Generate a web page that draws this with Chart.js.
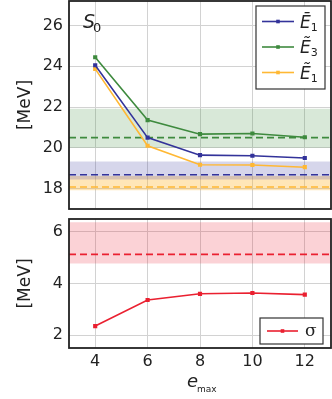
<!DOCTYPE html>
<html>
<head>
<meta charset="utf-8">
<script src="https://cdn.jsdelivr.net/npm/chart.js@4"></script>
<style>
  html, body { margin: 0; padding: 0; background: #fff; }
  #wrap { position: relative; width: 332px; height: 399px; }
  .pane { position: absolute; left: 0; width: 332px; }
  #topPane { top: 0; height: 212px; }
  #botPane { top: 212px; height: 187px; }
</style>
</head>
<body>
<div id="wrap">
  <div class="pane" id="topPane"><canvas id="topChart"></canvas></div>
  <div class="pane" id="botPane"><canvas id="botChart"></canvas></div>
</div>
<script>
// x values (e_max)
const emax = [4, 6, 8, 10, 12];
const xRange = [3, 13];
const xTicks = [4, 6, 8, 10, 12];

// top panel, S0 energies in MeV
const eBar1 = [24.05, 20.5, 19.64, 19.61, 19.5];
const eTilde3 = [24.44, 21.36, 20.67, 20.7, 20.52];
const eTilde1 = [23.87, 20.1, 19.17, 19.16, 19.05];
const topTicks = [18, 20, 22, 24, 26];

// reference values with their bands (low, high)
const greenRef = 20.5,  greenBand = [20.0, 21.92];
const blueRef = 18.68,  blueBand = [18.45, 19.33];
const orangeRef = 18.08, orangeBand = [17.92, 18.62];

// bottom panel, sigma
const sigma = [2.35, 3.36, 3.6, 3.63, 3.57];
const sigmaRef = 5.13, sigmaBand = [4.78, 6.37];
const botTicks = [2, 4, 6];

const FONT = '"DejaVu Sans", sans-serif';
const BLUE = '#33339a', GREEN = '#3e8a3e', ORANGE = '#ffb834', RED = '#ea2030';

function pts(ys) { return emax.map((x, i) => ({x: x, y: ys[i]})); }
function flat(y) { return xRange.map(x => ({x: x, y: y})); }

function seriesSet(label, ys, color) {
  return {
    label: label, data: pts(ys), borderColor: color, backgroundColor: color,
    borderWidth: 1.6, pointStyle: 'rect', pointRadius: 1.8, pointHoverRadius: 1.8,
    tension: 0, order: 1, legend: true
  };
}
function bandSets(band, ref, color, fillColor) {
  return [
    { data: flat(band[0]), borderWidth: 0, pointRadius: 0, fill: false, order: 10 },
    { data: flat(band[1]), borderWidth: 0, pointRadius: 0, fill: '-1', backgroundColor: fillColor, order: 10 },
    { data: flat(ref), borderColor: color, borderWidth: 1.6, borderDash: [7, 4], pointRadius: 0, fill: false, order: 5 }
  ];
}

// frame + in-plot legend + text labels
const frame = {
  id: 'frame',
  afterDraw(chart, args, o) {
    const {ctx, chartArea: a} = chart;
    ctx.save();
    ctx.strokeStyle = '#222';
    ctx.lineWidth = 1.8;
    ctx.strokeRect(a.left, a.top, a.right - a.left, a.bottom - a.top);

    // legend box
    const L = o.legend;
    const bx = a.right - L.right - L.width;
    const by = L.fromBottom ? a.bottom - L.bottom - L.height : a.top + L.top;
    ctx.fillStyle = '#fff';
    ctx.fillRect(bx, by, L.width, L.height);
    ctx.strokeStyle = '#333';
    ctx.lineWidth = 1.2;
    ctx.strokeRect(bx, by, L.width, L.height);
    const items = chart.data.datasets.filter(d => d.legend);
    items.forEach((d, i) => {
      const cy = by + L.first + i * L.step;
      ctx.strokeStyle = d.borderColor;
      ctx.lineWidth = 1.6;
      ctx.beginPath();
      ctx.moveTo(bx + L.lineX0, cy);
      ctx.lineTo(bx + L.lineX1, cy);
      ctx.stroke();
      ctx.fillStyle = d.borderColor;
      const mx = (L.lineX0 + L.lineX1) / 2 + bx;
      ctx.fillRect(mx - 1.8, cy - 1.8, 3.6, 3.6);
      ctx.fillStyle = '#222';
      ctx.textBaseline = 'alphabetic';
      const parts = d.label.split('_');
      ctx.font = L.font;
      ctx.fillText(parts[0], bx + L.textX, cy + L.baseOff);
      if (parts[1]) {
        const w = ctx.measureText(parts[0]).width;
        ctx.font = '11px ' + FONT;
        ctx.fillText(parts[1], bx + L.textX + w, cy + L.baseOff + 3);
      }
    });

    // extra text
    (o.texts || []).forEach(t => {
      ctx.fillStyle = '#222';
      ctx.font = t.font;
      ctx.textAlign = t.align || 'left';
      ctx.fillText(t.text, t.rel === 'area' ? a.left + t.x : t.x, t.rel === 'area' ? a.top + t.y : t.y);
    });
    ctx.restore();
  }
};

function baseScales(yMin, yMax, yTicks, showX) {
  return {
    x: {
      type: 'linear', min: xRange[0], max: xRange[1],
      afterBuildTicks: s => { s.ticks = xTicks.map(v => ({value: v})); },
      afterFit: s => { s.height = showX ? 51 : 0; s.paddingLeft = 0; s.paddingRight = 0; },
      grid: { color: '#d2d2d2', lineWidth: 1, drawTicks: false },
      border: { display: false },
      ticks: { display: showX, padding: 4, color: '#222', font: { family: FONT, size: 16 } }
    },
    y: {
      min: yMin, max: yMax,
      afterBuildTicks: s => { s.ticks = yTicks.map(v => ({value: v})); },
      afterFit: s => { s.width = 69; s.paddingTop = 0; s.paddingBottom = 0; },
      grid: { color: '#d2d2d2', lineWidth: 1, drawTicks: false },
      border: { display: false },
      ticks: { padding: 6, color: '#222', font: { family: FONT, size: 16 } },
      title: { display: true, text: '[MeV]', color: '#222', font: { family: FONT, size: 17 }, padding: { top: 15 } }
    }
  };
}

const common = {
  responsive: true, maintainAspectRatio: false, animation: false,
  plugins: { legend: { display: false }, tooltip: { enabled: false } }
};

new Chart(document.getElementById('topChart'), {
  type: 'line',
  data: {
    datasets: [
      seriesSet('Ē_1', eBar1, BLUE),
      seriesSet('Ẽ_3', eTilde3, GREEN),
      seriesSet('Ẽ_1', eTilde1, ORANGE),
      ...bandSets(greenBand, greenRef, GREEN, 'rgba(62,138,62,0.2)'),
      ...bandSets(blueBand, blueRef, BLUE, 'rgba(51,51,154,0.2)'),
      ...bandSets(orangeBand, orangeRef, ORANGE, 'rgba(255,184,52,0.35)')
    ]
  },
  options: Object.assign({}, common, {
    layout: { autoPadding: false, padding: { top: 1, right: 1, bottom: 3, left: 0 } },
    scales: baseScales(17, 27.2, topTicks, false),
    plugins: Object.assign({}, common.plugins, {
      frame: {
        legend: { right: 6, top: 5, width: 69, height: 83, first: 15.5, step: 25.5,
                  lineX0: 6, lineX1: 38, textX: 44, baseOff: 6, font: 'italic 17px ' + FONT },
        texts: [
          { text: 'S', x: 14, y: 27, rel: 'area', font: 'italic 19px ' + FONT },
          { text: '0', x: 24, y: 31, rel: 'area', font: '13px ' + FONT }
        ]
      }
    })
  }),
  plugins: [frame]
});

new Chart(document.getElementById('botChart'), {
  type: 'line',
  data: {
    datasets: [
      seriesSet('σ', sigma, RED),
      ...bandSets(sigmaBand, sigmaRef, RED, 'rgba(234,32,48,0.2)')
    ]
  },
  options: Object.assign({}, common, {
    layout: { autoPadding: false, padding: { top: 7, right: 1, bottom: 0, left: 0 } },
    scales: baseScales(1.5, 6.5, botTicks, true),
    plugins: Object.assign({}, common.plugins, {
      frame: {
        legend: { fromBottom: true, right: 8, bottom: 4, width: 63, height: 26, first: 13, step: 0,
                  lineX0: 7, lineX1: 38, textX: 45, baseOff: 5, font: '17px "DejaVu Serif", serif' },
        texts: [
          { text: 'e', x: 187, y: 174.5, font: 'italic 18px ' + FONT },
          { text: 'max', x: 197, y: 179.5, font: '9px ' + FONT }
        ]
      }
    })
  }),
  plugins: [frame]
});
</script>
</body>
</html>
